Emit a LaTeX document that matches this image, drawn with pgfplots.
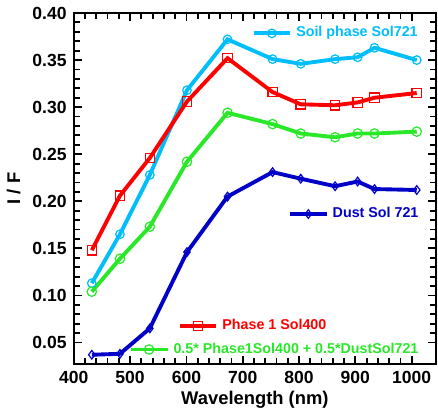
\documentclass[border=0pt]{standalone}
\usepackage{pgfplots}
\pgfplotsset{compat=1.18}
\usepackage{fontspec}
\setmainfont{Liberation Sans}

\definecolor{soil}{RGB}{0,190,250}
\definecolor{phaseone}{RGB}{255,0,0}
\definecolor{mixgreen}{RGB}{40,232,40}
\definecolor{dust}{RGB}{0,0,200}

\pgfplotsset{
  onekey/.style={
    width=177.5pt, height=172pt, scale only axis,
    xmin=400, xmax=1043, ymin=0.0273, ymax=0.40, hide axis,
    legend style={draw=none, fill=none, inner sep=0pt, outer sep=0pt,
      font=\fontsize{7}{8}\selectfont\bfseries, legend cell align=left,
      /tikz/every even column/.append style={column sep=1pt}},
    legend image code/.code={
      \draw[mark repeat=2,mark phase=2,##1]
        plot coordinates {(0pt,0pt) (9pt,0pt) (18pt,0pt)};},
  },
}

\begin{document}
\begin{tikzpicture}
\begin{axis}[
  width=177.5pt, height=172pt, scale only axis,
  xmin=400, xmax=1043, ymin=0.0273, ymax=0.40,
  axis line style={line width=1pt},
  xtick={400,500,...,1000},
  minor x tick num=4,
  ytick={0.05,0.10,...,0.40},
  minor y tick num=4,
  tick style={line width=0.9pt, draw=black},
  major tick length=4pt,
  tick label style={font=\fontsize{8.6}{9}\selectfont\bfseries},
  /pgf/number format/assume math mode=true,
  yticklabel style={/pgf/number format/.cd, fixed, fixed zerofill, precision=2},
  xticklabel style={/pgf/number format/.cd, fixed, 1000 sep={}},
  xlabel={\bfseries Wavelength (nm)},
  ylabel={\bfseries I / F},
  label style={font=\fontsize{9}{10}\selectfont\bfseries},
  xlabel style={yshift=3pt},
  ylabel style={yshift=-1pt},
]
% Soil phase Sol721
\addplot[soil, line width=1.9pt, mark=o, mark size=2.1pt,
  mark options={fill=white, line width=0.6pt}] coordinates {
  (432,0.113) (482,0.165) (535,0.228) (601,0.318) (673,0.372) (753,0.351)
  (803,0.346) (864,0.351) (904,0.353) (934,0.363) (1009,0.350)};
% Phase 1 Sol400
\addplot[phaseone, line width=1.9pt, mark=square, mark size=2.3pt,
  mark options={fill=white, line width=0.6pt}] coordinates {
  (432,0.148) (482,0.206) (535,0.246) (601,0.306) (673,0.352) (753,0.316)
  (803,0.303) (864,0.302) (904,0.305) (934,0.310) (1009,0.315)};
% mixture
\addplot[mixgreen, line width=1.9pt, mark=o, mark size=2.3pt,
  mark options={fill=white, line width=0.6pt}] coordinates {
  (432,0.104) (482,0.139) (535,0.173) (601,0.242) (673,0.294) (753,0.282)
  (803,0.272) (864,0.268) (904,0.272) (934,0.272) (1009,0.274)};
% Dust Sol 721
\addplot[dust, line width=1.9pt, mark=diamond, mark size=2.1pt,
  mark options={fill=white, line width=0.6pt}] coordinates {
  (432,0.037) (482,0.038) (535,0.065) (601,0.146) (673,0.205) (753,0.231)
  (803,0.224) (864,0.216) (904,0.221) (934,0.213) (1009,0.212)};
\end{axis}

% keys placed inside the plot, one small axis each
\begin{axis}[onekey, legend style={at={(0.961,0.942)}, anchor=east}]
\addlegendimage{soil, line width=1.9pt, mark=o, mark size=2.1pt,
  mark options={fill=white, line width=0.6pt}}
\addlegendentry{\textcolor{soil}{Soil phase Sol721}}
\end{axis}

\begin{axis}[onekey, legend style={at={(0.963,0.427)}, anchor=east}]
\addlegendimage{dust, line width=1.9pt, mark=diamond, mark size=2.1pt,
  mark options={fill=white, line width=0.6pt}}
\addlegendentry{\textcolor{dust}{Dust Sol 721}}
\end{axis}

\begin{axis}[onekey, legend style={at={(0.287,0.108)}, anchor=west}]
\addlegendimage{phaseone, line width=1.9pt, mark=square, mark size=2.3pt,
  mark options={fill=white, line width=0.6pt}}
\addlegendentry{\textcolor{phaseone}{Phase 1 Sol400}}
\end{axis}

\begin{axis}[onekey, legend style={at={(0.963,0.041)}, anchor=east}]
\addlegendimage{mixgreen, line width=1.9pt, mark=o, mark size=2.3pt,
  mark options={fill=white, line width=0.6pt}}
\addlegendentry{\textcolor{mixgreen}{0.5* Phase1Sol400 + 0.5*DustSol721}}
\end{axis}
\end{tikzpicture}
\end{document}
